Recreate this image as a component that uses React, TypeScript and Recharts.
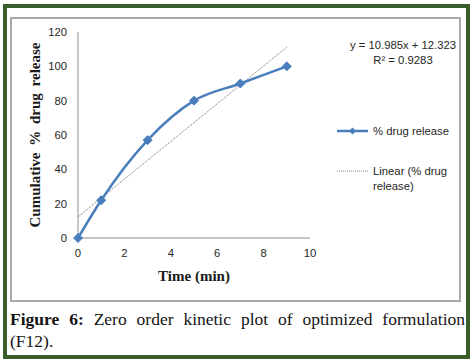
import React from 'react';
import { LineChart, Line, XAxis, YAxis } from 'recharts';

const timeMin = [0, 1, 3, 5, 7, 9];
const drugRelease = [0, 22, 57, 80, 90, 100];
const linearFit = [12.3, 23.3, 45.3, 67.2, 89.2, 111.2];
const xTicks = [0, 2, 4, 6, 8, 10];
const yTicks = [0, 20, 40, 60, 80, 100, 120];
const seriesName = '% drug release';
const trendNameLine1 = 'Linear (% drug';
const trendNameLine2 = 'release)';
const equationText = 'y = 10.985x + 12.323';
const r2Text = 'R² = 0.9283';
const xTitle = 'Time (min)';
const yTitle = 'Cumulative % drug release';
const captionBold = 'Figure 6:';
const captionLine1 = ' Zero order kinetic plot of optimized formulation';
const captionLine2 = '(F12).';

const data = timeMin.map((t, i) => ({ t, release: drugRelease[i], linear: linearFit[i] }));

const BLUE = '#4a7ebb';
const TICK_FONT = '"Liberation Sans", Arial, sans-serif';
const TITLE_FONT = '"Liberation Serif", "Times New Roman", serif';

const Diamond = (props: any) => {
  const { cx, cy } = props;
  if (cx == null || cy == null) return null;
  const s = 4.5;
  return (
    <polygon
      points={`${cx},${cy - s} ${cx + s},${cy} ${cx},${cy + s} ${cx - s},${cy}`}
      fill={BLUE}
      stroke={BLUE}
      strokeWidth={1}
    />
  );
};

const YTitle = (props: any) => {
  const vb = props.viewBox || {};
  const x = vb.x + 12;
  const y = vb.y + vb.height / 2;
  return (
    <text
      x={x}
      y={y}
      transform={`rotate(-90 ${x} ${y})`}
      textAnchor="middle"
      fontFamily={TITLE_FONT}
      fontWeight="bold"
      fontSize={15}
      fill="#1a1a1a"
      style={{ wordSpacing: '3px' }}
    >
      {yTitle}
    </text>
  );
};

const XTitle = (props: any) => {
  const vb = props.viewBox || {};
  const x = vb.x + vb.width / 2;
  const y = vb.y + vb.height + 13;
  return (
    <text x={x} y={y} textAnchor="middle" fontFamily={TITLE_FONT} fontWeight="bold" fontSize={15} fill="#1a1a1a">
      {xTitle}
    </text>
  );
};

const LegendBox = () => (
  <svg width={130} height={80} style={{ display: 'block', overflow: 'visible' }}>
    <line x1={0} y1={11} x2={31} y2={11} stroke={BLUE} strokeWidth={2.5} />
    <polygon points="15.5,7.5 19,11 15.5,14.5 12,11" fill={BLUE} />
    <text x={36} y={11} dy="0.35em" fontFamily={TICK_FONT} fontSize={11.3} fill="#262626">
      {seriesName}
    </text>
    <line x1={0} y1={51} x2={31} y2={51} stroke="#7f7f7f" strokeWidth={1} strokeDasharray="1 1" />
    <text x={36} y={51} dy="0.35em" fontFamily={TICK_FONT} fontSize={11.3} fill="#262626">
      {trendNameLine1}
    </text>
    <text x={36} y={66} dy="0.35em" fontFamily={TICK_FONT} fontSize={11.3} fill="#262626">
      {trendNameLine2}
    </text>
  </svg>
);

export default function App() {
  return (
    <div style={{ position: 'absolute', left: 0, top: 0, width: 474, height: 360, background: '#fff', overflow: 'hidden' }}>
      <div
        style={{
          position: 'absolute',
          left: 3,
          top: 4,
          width: 467,
          height: 355,
          boxSizing: 'border-box',
          border: '4px solid #3a5d2c',
        }}
      />
      <div
        style={{
          position: 'absolute',
          left: 10,
          top: 17,
          width: 451,
          height: 285,
          boxSizing: 'border-box',
          border: '2px solid #a9a9a9',
        }}
      />
      <div style={{ position: 'absolute', left: 0, top: 0 }}>
        <LineChart width={474} height={300} data={data} margin={{ top: 32, right: 164, bottom: 32, left: 28 }}>
          <XAxis
            dataKey="t"
            type="number"
            domain={[0, 10]}
            ticks={xTicks}
            height={30}
            tickLine={false}
            tickMargin={5}
            axisLine={{ stroke: '#8c8c8c', strokeWidth: 1 }}
            tick={{ fontFamily: TICK_FONT, fontSize: 11.3, fill: '#262626' }}
            label={<XTitle />}
          />
          <YAxis
            type="number"
            domain={[0, 120]}
            ticks={yTicks}
            width={50}
            tickLine={false}
            tickMargin={5}
            axisLine={{ stroke: '#8c8c8c', strokeWidth: 1 }}
            tick={{ fontFamily: TICK_FONT, fontSize: 11.3, fill: '#262626' }}
            label={<YTitle />}
          />
          <Line
            dataKey="linear"
            type="linear"
            stroke="#707070"
            strokeWidth={1}
            strokeDasharray="1 1"
            dot={false}
            activeDot={false}
            isAnimationActive={false}
            name="Linear (% drug release)"
          />
          <Line
            dataKey="release"
            type="monotone"
            stroke={BLUE}
            strokeWidth={2.5}
            dot={(p: any) => <Diamond key={`d-${p.index}`} {...p} />}
            activeDot={false}
            isAnimationActive={false}
            name={seriesName}
          />
        </LineChart>
      </div>
      <div style={{ position: 'absolute', left: 337, top: 120 }}>
        <LegendBox />
      </div>
      <div
        style={{
          position: 'absolute',
          left: 343,
          top: 38,
          width: 120,
          textAlign: 'center',
          fontFamily: TICK_FONT,
          fontSize: 11.3,
          lineHeight: '15px',
          color: '#262626',
          whiteSpace: 'nowrap',
        }}
      >
        <div>{equationText}</div>
        <div>{r2Text}</div>
      </div>
      <div
        style={{
          position: 'absolute',
          left: 10,
          top: 308,
          width: 455,
          fontFamily: TITLE_FONT,
          fontSize: 17.5,
          lineHeight: '22px',
          color: '#141414',
        }}
      >
        <div style={{ textAlign: 'justify', textAlignLast: 'justify', whiteSpace: 'nowrap' }}>
          <b>{captionBold}</b>
          {captionLine1}
        </div>
        <div>{captionLine2}</div>
      </div>
    </div>
  );
}
